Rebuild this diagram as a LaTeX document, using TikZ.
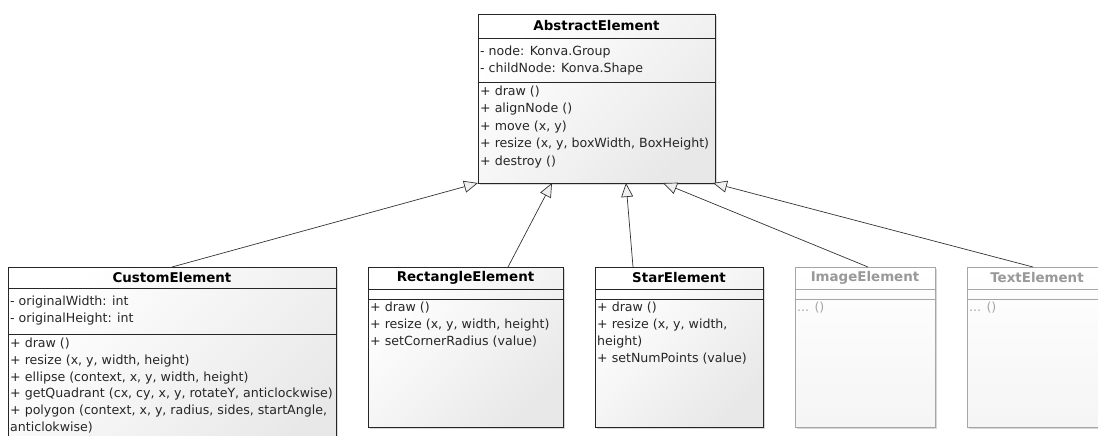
\documentclass[tikz,border=0pt]{standalone}
\usepackage{fontspec}
\setmainfont{DejaVu Sans}
\usetikzlibrary{positioning, calc, arrows.meta, shadows}

\begin{document}
\begin{tikzpicture}[x=1pt, y=-1pt,
    umlbox/.style={rectangle, draw=black!85, line width=0.8pt, inner sep=0pt, outer sep=0pt,
        anchor=north west, top color=white, bottom color=black!9, shading angle=45,
        drop shadow={shadow xshift=2pt, shadow yshift=-2pt, fill=black!30, opacity=0.5}},
    ghostbox/.style={umlbox, draw=black!35, bottom color=black!4},
    umlhead/.style={font=\fontsize{13.4}{15}\selectfont\bfseries, inner sep=0pt},
    member/.style={anchor=west, inner sep=0pt, font=\fontsize{12.6}{15}\selectfont, text=black!85},
    umlsep/.style={draw=black!85, line width=0.8pt},
    inherit/.style={draw=black!80, line width=0.7pt,
        -{Triangle[length=14pt, width=12pt, fill=black!6]}}
    ]
    \useasboundingbox (0,0) rectangle (1098,436);
    \clip (0,0) rectangle (1098,436);

    % parent class
    \node[umlbox, minimum width=237pt, minimum height=169pt] (abs) at (478,14) {};
    \node[umlhead] (absname) at ($(abs.north)+(0,12)$) {AbstractElement};
    \draw[umlsep] ($(abs.north west)+(0,24)$) -- ($(abs.north east)+(0,24)$);
    \draw[umlsep] ($(abs.north west)+(0,68)$) -- ($(abs.north east)+(0,68)$);
    \foreach \m [count=\i from 0] in {{- node: Konva.Group}, {- childNode: Konva.Shape}} {
        \node[member] (absa\i) at ($(abs.north west)+(2,38+\i*17)$) {\m};
    }
    \foreach \m [count=\i from 0] in {{+ draw ()}, {+ alignNode ()}, {+ move (x, y)},
        {+ resize (x, y, boxWidth, BoxHeight)}, {+ destroy ()}} {
        \node[member] (absm\i) at ($(abs.north west)+(2,78+\i*17.4)$) {\m};
    }

    % child classes
    \node[umlbox, minimum width=328pt, minimum height=200pt] (custom) at (8,267) {};
    \node[umlbox, minimum width=195pt, minimum height=160pt] (rect) at (368,267) {};
    \node[umlbox, minimum width=168pt, minimum height=160pt] (star) at (595,267) {};
    \node[ghostbox, minimum width=140pt, minimum height=160pt] (image) at (795,267) {};
    \node[ghostbox, minimum width=140pt, minimum height=160pt] (text) at (967,267) {};

    \node[umlhead] (customname) at ($(custom.north)+(0,11)$) {CustomElement};
    \node[umlhead] (rectname) at ($(rect.north)+(0,11)$) {RectangleElement};
    \node[umlhead] (starname) at ($(star.north)+(0,11)$) {StarElement};
    \node[umlhead, text=black!40] (imagename) at ($(image.north)+(0,11)$) {ImageElement};
    \node[umlhead, text=black!40] (textname) at ($(text.north)+(0,11)$) {TextElement};

    \draw[umlsep] ($(custom.north west)+(0,21)$) -- ($(custom.north east)+(0,21)$);
    \draw[umlsep] ($(custom.north west)+(0,67)$) -- ($(custom.north east)+(0,67)$);
    \foreach \b in {rect, star} {
        \draw[umlsep] ($(\b.north west)+(0,22)$) -- ($(\b.north east)+(0,22)$);
        \draw[umlsep] ($(\b.north west)+(0,32)$) -- ($(\b.north east)+(0,32)$);
    }
    \foreach \b in {image, text} {
        \draw[umlsep, draw=black!35] ($(\b.north west)+(0,22)$) -- ($(\b.north east)+(0,22)$);
        \draw[umlsep, draw=black!35] ($(\b.north west)+(0,32)$) -- ($(\b.north east)+(0,32)$);
    }

    \foreach \m [count=\i from 0] in {{- originalWidth: int}, {- originalHeight: int}} {
        \node[member] (customa\i) at ($(custom.north west)+(2,35+\i*17)$) {\m};
    }
    \foreach \m [count=\i from 0] in {{+ draw ()}, {+ resize (x, y, width, height)},
        {+ ellipse (context, x, y, width, height)},
        {+ getQuadrant (cx, cy, x, y, rotateY, anticlockwise)},
        {+ polygon (context, x, y, radius, sides, startAngle,}, {anticlokwise)}} {
        \node[member] (customm\i) at ($(custom.north west)+(2,77+\i*16.8)$) {\m};
    }
    \foreach \m [count=\i from 0] in {{+ draw ()}, {+ resize (x, y, width, height)},
        {+ setCornerRadius (value)}} {
        \node[member] (rectm\i) at ($(rect.north west)+(2,41+\i*17)$) {\m};
    }
    \foreach \m [count=\i from 0] in {{+ draw ()}, {+ resize (x, y, width,}, {height)},
        {+ setNumPoints (value)}} {
        \node[member] (starm\i) at ($(star.north west)+(2,41+\i*16.9)$) {\m};
    }
    \node[member, text=black!35] (imagem0) at ($(image.north west)+(2,41)$) {... ()};
    \node[member, text=black!35] (textm0) at ($(text.north west)+(2,41)$) {... ()};

    % generalisation arrows
    \draw[inherit] (custom.north) -- (abs.south west);
    \draw[inherit] ([xshift=140pt]rect.north west) -- ([xshift=74pt]abs.south west);
    \draw[inherit] ([xshift=38pt]star.north west) -- ([xshift=148pt]abs.south west);
    \draw[inherit] ([xshift=73pt]image.north west) -- ([xshift=185pt]abs.south west);
    \draw[inherit] ([xshift=66pt]text.north west) -- ([xshift=-2pt]abs.south east);
\end{tikzpicture}
\end{document}
